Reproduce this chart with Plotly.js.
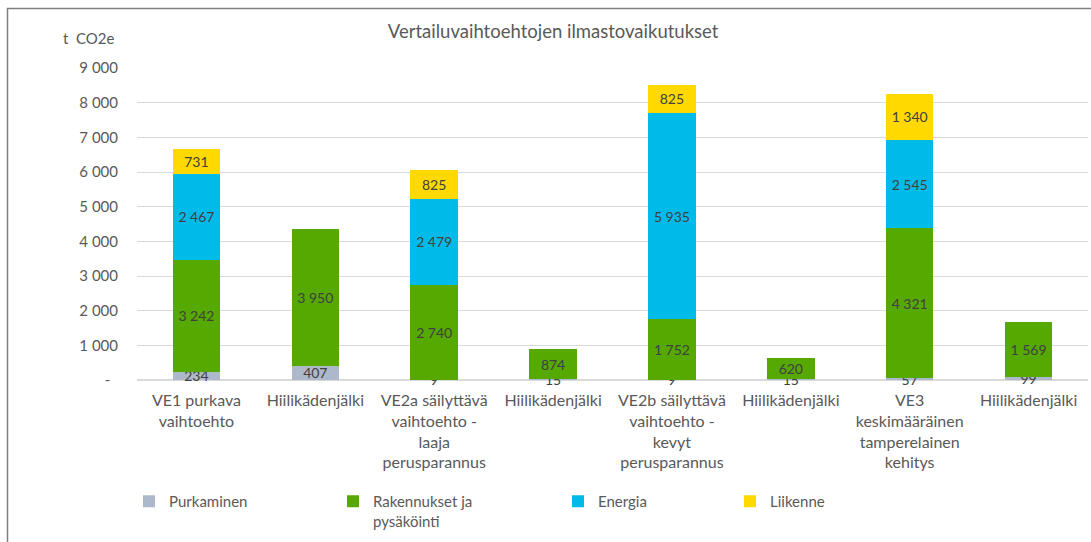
<!DOCTYPE html>
<html>
<head>
<meta charset="utf-8">
<script src="https://cdn.plot.ly/plotly-3.0.1.min.js"></script>
<style>
  html, body { margin: 0; padding: 0; background: #ffffff; }
  #chart { width: 1091px; height: 542px; }
</style>
</head>
<body>
<div id="chart"></div>
<script>
const categories = [
  'VE1 purkava<br>vaihtoehto',
  'Hiilikädenjälki',
  'VE2a säilyttävä<br>vaihtoehto -<br>laaja<br>perusparannus',
  'Hiilikädenjälki',
  'VE2b säilyttävä<br>vaihtoehto -<br>kevyt<br>perusparannus',
  'Hiilikädenjälki',
  'VE3<br>keskimääräinen<br>tamperelainen<br>kehitys',
  'Hiilikädenjälki'
];
const purkaminen  = [234, 407, 9, 15, 9, 15, 57, 99];
const rakennukset = [3242, 3950, 2740, 874, 1752, 620, 4321, 1569];
const energia     = [2467, null, 2479, null, 5935, null, 2545, null];
const liikenne    = [731, null, 825, null, 825, null, 1340, null];

const seriesNames = ['Purkaminen', 'Rakennukset ja<br>pysäköinti', 'Energia', 'Liikenne'];
const seriesColors = ['#ADB9CA', '#56A900', '#00BBEA', '#FFD900'];

const yTickVals = [0, 1000, 2000, 3000, 4000, 5000, 6000, 7000, 8000, 9000];
const yTickText = ['-\u00a0\u00a0', '1 000', '2 000', '3 000', '4 000', '5 000', '6 000', '7 000', '8 000', '9 000'];

const xPos = categories.map((c, i) => i);
const FONT = 'Lato, Carlito, "Open Sans", sans-serif';
const GREY = '#595959';

const seriesData = [purkaminen, rakennukset, energia, liikenne];
const legendWidths = [159, 180, 127, 80];

const traces = seriesData.map((vals, k) => ({
  type: 'bar',
  name: seriesNames[k],
  x: xPos,
  y: vals,
  width: 0.4,
  marker: { color: seriesColors[k], line: { width: 0 } },
  texttemplate: '%{y:,.0f}',
  textposition: 'inside',
  insidetextanchor: 'middle',
  textangle: 0,
  constraintext: 'none',
  cliponaxis: false,
  insidetextfont: { family: FONT, size: 14, color: '#404040' },
  legendwidth: legendWidths[k],
  hoverinfo: 'name+y'
}));

const layout = {
  width: 1091,
  height: 542,
  barmode: 'stack',
  separators: ', ',
  paper_bgcolor: '#ffffff',
  plot_bgcolor: '#ffffff',
  font: { family: FONT, size: 15, color: GREY },
  margin: { l: 137, r: 3, t: 68, b: 162, pad: 0 },
  uniformtext: { mode: 'show', minsize: 14 },
  title: {
    text: 'Vertailuvaihtoehtojen ilmastovaikutukset',
    font: { family: FONT, size: 18.5, color: GREY },
    xref: 'container', yref: 'container',
    x: 0.507, xanchor: 'center',
    y: 0.941, yanchor: 'middle'
  },
  xaxis: {
    range: [-0.5, 7.5],
    tickvals: xPos,
    ticktext: categories,
    showgrid: false,
    zeroline: false,
    showline: false,
    ticks: '',
    ticklabelstandoff: 9,
    tickfont: { family: FONT, size: 16, color: GREY },
    fixedrange: true
  },
  yaxis: {
    range: [0, 9000],
    tickvals: yTickVals,
    ticktext: yTickText,
    showgrid: true,
    gridcolor: '#D9D9D9',
    gridwidth: 1,
    zeroline: true,
    zerolinecolor: '#D9D9D9',
    zerolinewidth: 1.5,
    showline: false,
    ticks: '',
    ticklabelstandoff: 18,
    tickfont: { family: FONT, size: 15, color: GREY },
    fixedrange: true
  },
  showlegend: true,
  legend: {
    orientation: 'h',
    traceorder: 'normal',
    x: (129 - 137) / 951,
    xanchor: 'left',
    y: -(485 - 380) / 312,
    yanchor: 'top',
    valign: 'top',
    font: { family: FONT, size: 15, color: GREY },
    bgcolor: 'rgba(0,0,0,0)',
    borderwidth: 0,
    itemclick: false,
    itemdoubleclick: false
  },
  annotations: [{
    text: 't\u00a0 CO2e',
    xref: 'paper', yref: 'paper',
    x: (117 - 137) / 951, xanchor: 'right',
    y: 1 + (68 - 38) / 312, yanchor: 'middle',
    showarrow: false,
    font: { family: FONT, size: 15, color: GREY }
  }],
  shapes: [{
    type: 'rect',
    xref: 'paper', yref: 'paper',
    x0: (7.5 - 137) / 951, x1: (1100 - 137) / 951,
    y0: -(560 - 380) / 312, y1: 1 + (68 - 8.5) / 312,
    line: { color: '#7F7F7F', width: 1.5 },
    fillcolor: 'rgba(0,0,0,0)',
    layer: 'above'
  }]
};

Plotly.newPlot('chart', traces, layout, { displayModeBar: false, staticPlot: true });
</script>
</body>
</html>
